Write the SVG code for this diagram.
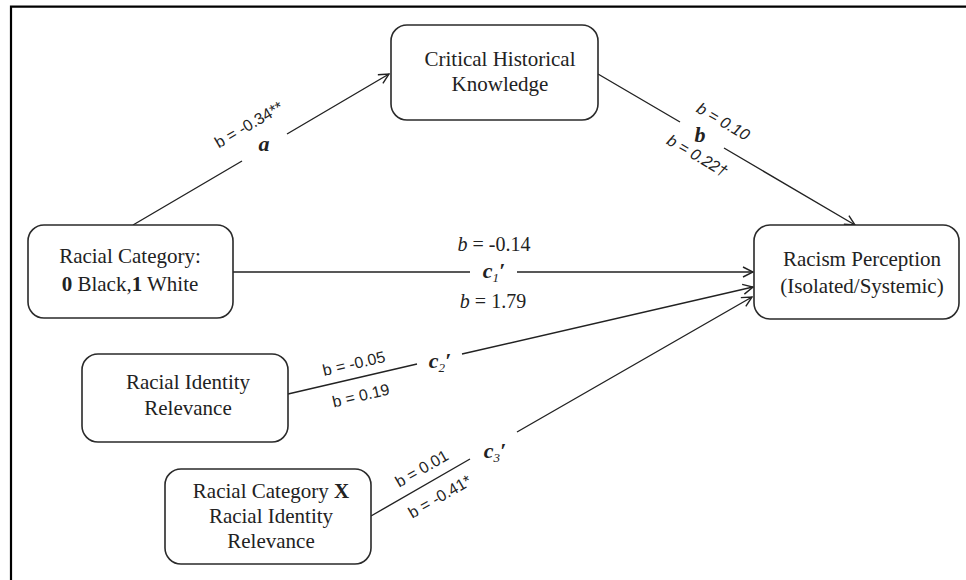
<svg xmlns="http://www.w3.org/2000/svg" width="966" height="580" viewBox="0 0 966 580">
<style>
.box{fill:#fff;stroke:#2a2a2a;stroke-width:1.6}
.nt{font-family:"Liberation Serif","Times New Roman",serif;font-size:21px;fill:#222;text-anchor:middle}
.sl{font-family:"Liberation Serif","Times New Roman",serif;font-size:20px;fill:#222;text-anchor:middle}
.bl{font-family:"Liberation Serif","Times New Roman",serif;font-size:22px;font-weight:bold;font-style:italic;fill:#222;text-anchor:middle}
.ss{font-family:"Liberation Sans",Arial,sans-serif;font-size:16px;fill:#222;text-anchor:middle}
.con{fill:none;stroke:#222;stroke-width:1.4}
.frame{stroke:#000;stroke-width:2.2;fill:none}
</style>
<defs>
<marker id="arr" viewBox="0 0 12 12" refX="11" refY="6" markerWidth="12" markerHeight="12" markerUnits="userSpaceOnUse" orient="auto">
<path d="M1,1 L11,6 L1,11" fill="none" stroke="#222" stroke-width="1.4"/>
</marker>
</defs>
<rect width="966" height="580" fill="#fff"/>
<path class="frame" d="M11,580 L11,6.7 L966,6.7"/>

<g id="connectors">
<path class="con" d="M133,225 L242,161 M287,134 L389,74" marker-end="url(#arr)"/>
<path class="con" d="M598,74 L680,122 M724,148 L855,225" marker-end="url(#arr)"/>
<path class="con" d="M233,272 L470,272 M517,272 L753,272" marker-end="url(#arr)"/>
<path class="con" d="M288,394 L417,364 M462,354 L753,287" marker-end="url(#arr)"/>
<path class="con" d="M371,516 L470,459 M517,432 L752,297" marker-end="url(#arr)"/>
</g>

<g id="labels">
<text class="ss" transform="translate(249,125) rotate(-30.4)" y="5">b = -0.34**</text>
<text class="bl" x="264" y="151">a</text>
<text class="ss" transform="translate(723,122) rotate(30.3)" y="5" font-style="italic">b = 0.10</text>
<text class="bl" x="700" y="142">b</text>
<text class="ss" transform="translate(697,156) rotate(30.3)" y="5" font-style="italic">b = 0.22†</text>
<text class="sl" x="494" y="251"><tspan font-style="italic">b</tspan> = -0.14</text>
<text class="bl" x="494" y="278">c<tspan font-size="13" font-weight="normal" dy="4">1</tspan><tspan dy="-4">′</tspan></text>
<text class="sl" x="493" y="308"><tspan font-style="italic">b</tspan> = 1.79</text>
<text class="ss" transform="translate(354,364) rotate(-12.9)" y="5">b = -0.05</text>
<text class="ss" transform="translate(361,396) rotate(-12.9)" y="5">b = 0.19</text>
<text class="bl" x="440" y="368">c<tspan font-size="13" font-weight="normal" dy="4">2</tspan><tspan dy="-4">′</tspan></text>
<text class="ss" transform="translate(422,469) rotate(-29.9)" y="5">b = 0.01</text>
<text class="ss" transform="translate(440,497) rotate(-29.9)" y="5">b = -0.41*</text>
<text class="bl" x="495" y="458">c<tspan font-size="13" font-weight="normal" dy="4">3</tspan><tspan dy="-4">′</tspan></text>
</g>

<g id="node-critical">
<rect class="box" x="391" y="25" width="207" height="95" rx="16"/>
<text class="nt" x="500" y="66">Critical Historical</text>
<text class="nt" x="500" y="91">Knowledge</text>
</g>
<g id="node-racial-category">
<rect class="box" x="28" y="225" width="205" height="93" rx="16"/>
<text class="nt" x="130" y="263">Racial Category:</text>
<text class="nt" x="130" y="291"><tspan font-weight="bold">0</tspan> Black,<tspan font-weight="bold">1</tspan> White</text>
</g>
<g id="node-racism">
<rect class="box" x="754" y="225" width="205" height="94" rx="16"/>
<text class="nt" x="862" y="266">Racism Perception</text>
<text class="nt" x="862" y="293">(Isolated/Systemic)</text>
</g>
<g id="node-identity">
<rect class="box" x="82" y="354" width="206" height="88" rx="16"/>
<text class="nt" x="188" y="389">Racial Identity</text>
<text class="nt" x="188" y="415">Relevance</text>
</g>
<g id="node-interaction">
<rect class="box" x="165" y="469" width="206" height="95" rx="16"/>
<text class="nt" x="271" y="498">Racial Category <tspan font-weight="bold">X</tspan></text>
<text class="nt" x="271" y="523">Racial Identity</text>
<text class="nt" x="271" y="548">Relevance</text>
</g>
</svg>
